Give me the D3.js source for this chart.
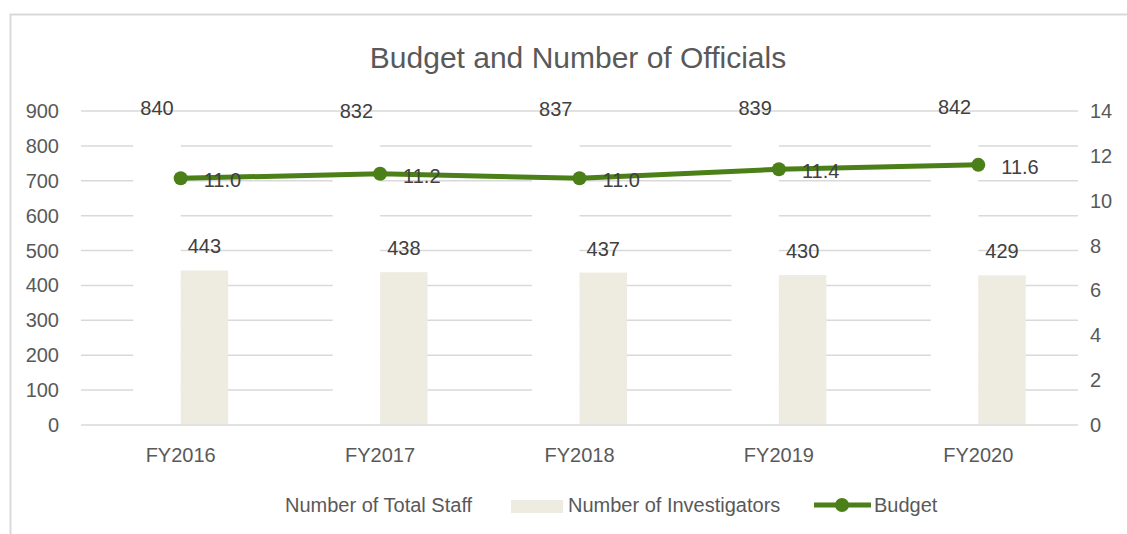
<!DOCTYPE html>
<html>
<head>
<meta charset="utf-8">
<script src="https://cdn.jsdelivr.net/npm/d3@7"></script>
<style>
  body { margin: 0; background: #fff; }
  svg { display: block; font-family: "Liberation Sans", Arial, sans-serif; }
</style>
</head>
<body>
<svg id="chart" width="1127" height="534"></svg>
<script>
/* data */
var years = ["FY2016", "FY2017", "FY2018", "FY2019", "FY2020"];
var totalStaff = [840, 832, 837, 839, 842];
var investigators = [443, 438, 437, 430, 429];
var budget = [11.0, 11.2, 11.0, 11.4, 11.6];
var leftTicks = [0, 100, 200, 300, 400, 500, 600, 700, 800, 900];
var rightTicks = [0, 2, 4, 6, 8, 10, 12, 14];

var svg = d3.select("#chart");
var green = "#4b7f17";
var beige = "#eeece1";

// chart border
svg.append("rect")
    .attr("x", 10.5).attr("y", 14.5)
    .attr("width", 1130).attr("height", 540)
    .attr("fill", "none")
    .attr("stroke", "#d9d9d9")
    .attr("stroke-width", 2);

// title
svg.append("text")
    .attr("x", 578).attr("y", 68)
    .attr("text-anchor", "middle")
    .attr("font-size", 30)
    .attr("fill", "#595959")
    .text("Budget and Number of Officials");

// scales
let x = d3.scaleBand().domain(years).range([81, 1078]);
let yL = d3.scaleLinear().domain([0, 900]).range([425, 111]);
let yR = d3.scaleLinear().domain([0, 14]).range([425, 111]);
let barW = x.bandwidth() * 0.238;

// gridlines
svg.append("g")
    .selectAll("line")
    .data(leftTicks)
    .enter().append("line")
    .attr("x1", 81).attr("x2", 1078)
    .attr("y1", d => yL(d)).attr("y2", d => yL(d))
    .attr("stroke", "#d9d9d9")
    .attr("stroke-width", 1.5);

// left axis labels
svg.append("g")
    .selectAll("text")
    .data(leftTicks)
    .enter().append("text")
    .attr("x", 59)
    .attr("y", d => yL(d) + 7)
    .attr("text-anchor", "end")
    .attr("font-size", 20)
    .attr("fill", "#595959")
    .text(d => d);

// right axis labels
svg.append("g")
    .selectAll("text")
    .data(rightTicks)
    .enter().append("text")
    .attr("x", 1090)
    .attr("y", d => yR(d) + 7)
    .attr("font-size", 20)
    .attr("fill", "#595959")
    .text(d => d);

// x labels
svg.append("g")
    .selectAll("text")
    .data(years)
    .enter().append("text")
    .attr("x", d => x(d) + x.bandwidth() / 2)
    .attr("y", 462)
    .attr("text-anchor", "middle")
    .attr("font-size", 20)
    .attr("fill", "#595959")
    .text(d => d);

// total staff bars (white, they hide the gridlines)
svg.append("g")
    .selectAll("rect")
    .data(totalStaff)
    .enter().append("rect")
    .attr("x", (d, i) => x(years[i]) + x.bandwidth() / 2 - barW)
    .attr("y", d => yL(d))
    .attr("width", barW)
    .attr("height", d => yL(0) - yL(d) - 1)
    .attr("fill", "#fff");

// investigators bars
svg.append("g")
    .selectAll("rect")
    .data(investigators)
    .enter().append("rect")
    .attr("x", (d, i) => x(years[i]) + x.bandwidth() / 2)
    .attr("y", d => yL(d))
    .attr("width", barW)
    .attr("height", d => yL(0) - yL(d) - 1)
    .attr("fill", beige);

// bar labels
svg.append("g")
    .selectAll("text")
    .data(totalStaff)
    .enter().append("text")
    .attr("x", (d, i) => x(years[i]) + x.bandwidth() / 2 - barW / 2)
    .attr("y", d => yL(d) - 17)
    .attr("text-anchor", "middle")
    .attr("font-size", 20)
    .attr("fill", "#404040")
    .text(d => d);

svg.append("g")
    .selectAll("text")
    .data(investigators)
    .enter().append("text")
    .attr("x", (d, i) => x(years[i]) + x.bandwidth() / 2 + barW / 2)
    .attr("y", d => yL(d) - 17)
    .attr("text-anchor", "middle")
    .attr("font-size", 20)
    .attr("fill", "#404040")
    .text(d => d);

// budget line
let line = d3.line()
    .x((d, i) => x(years[i]) + x.bandwidth() / 2)
    .y(d => yR(d));

svg.append("path")
    .datum(budget)
    .attr("d", line)
    .attr("fill", "none")
    .attr("stroke", green)
    .attr("stroke-width", 5)
    .attr("stroke-linejoin", "round");

svg.append("g")
    .selectAll("circle")
    .data(budget)
    .enter().append("circle")
    .attr("cx", (d, i) => x(years[i]) + x.bandwidth() / 2)
    .attr("cy", d => yR(d))
    .attr("r", 7)
    .attr("fill", green);

svg.append("g")
    .selectAll("text")
    .data(budget)
    .enter().append("text")
    .attr("x", (d, i) => x(years[i]) + x.bandwidth() / 2 + 23)
    .attr("y", d => yR(d) + 9)
    .attr("font-size", 20)
    .attr("fill", "#404040")
    .text(d => d3.format(".1f")(d));

// legend
let lg = svg.append("g");
lg.append("text")
    .attr("x", 285).attr("y", 512)
    .attr("font-size", 20).attr("fill", "#595959")
    .text("Number of Total Staff");
lg.append("rect")
    .attr("x", 511).attr("y", 500)
    .attr("width", 52).attr("height", 13)
    .attr("fill", beige);
lg.append("text")
    .attr("x", 568).attr("y", 512)
    .attr("font-size", 20).attr("fill", "#595959")
    .text("Number of Investigators");
lg.append("line")
    .attr("x1", 814).attr("x2", 871)
    .attr("y1", 505).attr("y2", 505)
    .attr("stroke", green).attr("stroke-width", 5);
lg.append("circle")
    .attr("cx", 842).attr("cy", 505).attr("r", 7)
    .attr("fill", green);
lg.append("text")
    .attr("x", 874).attr("y", 512)
    .attr("font-size", 20).attr("fill", "#595959")
    .text("Budget");
</script>
</body>
</html>
